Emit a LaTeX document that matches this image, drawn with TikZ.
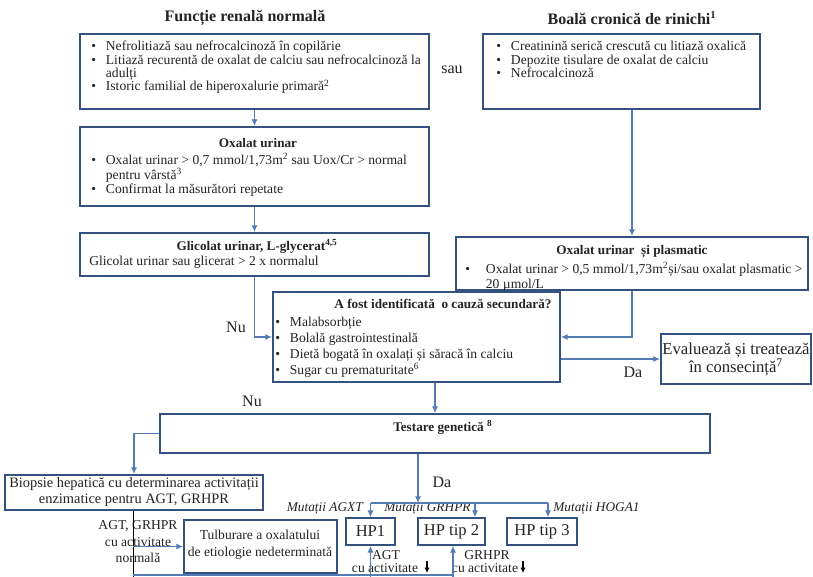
\documentclass[tikz,border=0pt]{standalone}
\usepackage{fontspec}
\setmainfont{Liberation Serif}
\usetikzlibrary{arrows.meta,fit}
\definecolor{boxc}{RGB}{52,82,128}
\definecolor{arrc}{RGB}{84,124,180}
\definecolor{txt}{RGB}{35,35,35}
\newcommand\bu{\makebox[11pt][l]{\textbullet}}
\newcommand\bul{\makebox[15.5pt][l]{\textbullet}}
\newcommand\ind{\hspace*{11pt}}
\newcommand\indl{\hspace*{15.5pt}}
\newcommand\fsz[2]{\fontsize{#1}{#2}\selectfont\lineskiplimit=-20pt\lineskip=0pt}
\tikzset{
 box/.style={draw=boxc, line width=1.5pt, inner sep=0pt},
 conn/.style={draw=arrc, line width=0.8pt},
 arr/.style={conn, -{Latex[length=5pt,width=4.5pt]}},
 tx/.style={inner sep=0pt, text=txt, font=\fsz{10.2}{10}, align=left},
 ttl/.style={inner sep=0pt, text=txt, font=\fontsize{12}{13}\selectfont\bfseries},
 hd/.style={inner sep=0pt, text=txt, font=\fontsize{9.9}{11}\selectfont\bfseries},
 lab/.style={inner sep=0pt, text=txt, font=\fontsize{12}{13}\selectfont},
 sml/.style={inner sep=0pt, text=txt, font=\fsz{10.2}{11}},
 mut/.style={inner sep=0pt, text=txt, font=\fontsize{10}{11}\selectfont\itshape},
 hp/.style={box, line width=1.3pt},
 hpt/.style={inner sep=0pt, text=txt, font=\fontsize{12.4}{13}\selectfont},
 blk/.style={draw=black, line width=0.6pt},
}
\begin{document}
\begin{tikzpicture}[x=0.75pt,y=-0.75pt]
\useasboundingbox (0,0) rectangle (813,576);
\fill[white] (0,0) rectangle (813,576);
% titles
\node[ttl] (t1) at (245,18) {Funcție renală normală};
\node[ttl] (t2) at (632,18) {Boală cronică de rinichi\textsuperscript{1}};
% box 1
\node[box, fit={(80,34) (429,109)}] (b1) {};
\node[tx, anchor=north west] (b1t) at (91,41) {\bu Nefrolitiază sau nefrocalcinoză în copilărie\\
\bu Litiază recurentă de oxalat de calciu sau nefrocalcinoză la\\
\ind adulți\\
\bu Istoric familial de hiperoxalurie primară\textsuperscript{2}};
\node[lab] (sau) at (452,70) {sau};
% box 2
\node[box, fit={(483,34) (760,109)}] (b2) {};
\node[tx, anchor=north west] (b2t) at (496,41) {\bu Creatinină serică crescută cu litiază oxalică\\
\bu Depozite tisulare de oxalat de calciu\\
\bu Nefrocalcinoză};
% box 3
\node[box, fit={(80,127) (429,206)}] (b3) {};
\node[hd] (b3h) at (258,143) {Oxalat urinar};
\node[tx, anchor=north west, font=\fsz{10.2}{11}] (b3t) at (91,153) {\bu Oxalat urinar > 0,7 mmol/1,73m\textsuperscript{2} sau Uox/Cr > normal\\
\ind pentru vârstă\textsuperscript{3}\\
\bu Confirmat la măsurători repetate};
% box 4
\node[box, fit={(80,233) (429,276)}] (b4) {};
\node[hd] (b4h) at (257,246) {Glicolat urinar, L-glycerat\textsuperscript{4,5}};
\node[tx, anchor=west] (b4t) at (89,262) {Glicolat urinar sau glicerat > 2 x normalul};
% box 5
\node[box, fit={(456,237) (808,290)}] (b5) {};
\node[hd] (b5h) at (632,252) {Oxalat urinar \ și plasmatic};
\node[tx, anchor=north west, font=\fsz{10.2}{11}] (b5t) at (465,262) {\bul Oxalat urinar > 0,5 mmol/1,73m\textsuperscript{2}și/sau oxalat plasmatic >\\
\indl 20 µmol/L};
% secondary cause box
\node[box, fit={(273,292) (560,382)}] (sec) {};
\node[hd] (sech) at (443,304) {A fost identificată \ o cauză secundară?};
\node[tx, anchor=north west, font=\fsz{10.2}{12}] (sect) at (275,317) {\bu Malabsorbție\\
\bu Bolală gastrointestinală\\
\bu Dietă bogată în oxalați și săracă în calciu\\
\bu Sugar cu prematuritate\textsuperscript{6}};
% evaluate box
\node[box, fit={(661,334) (811,384)}] (ev) {};
\node[lab, align=center, font=\fsz{12.5}{13.5}] (evt) at (736,359) {Evaluează și treatează\\ în consecință\textsuperscript{7}};
% labels
\node[lab] (nu1) at (236,327) {Nu};
\node[lab] (nu2) at (252,401) {Nu};
\node[lab] (da1) at (633,372) {Da};
\node[lab] (da2) at (442,482) {Da};
% testare box
\node[box, fit={(160,414) (710,453)}] (test) {};
\node[hd, anchor=west] (testt) at (393,427) {Testare genetică \textsuperscript{8}};
% biopsie
\node[box, fit={(5,475) (263,510)}] (bio) {};
\node[sml, align=center, font=\fsz{10.8}{11.5}] (biot) at (134,492) {Biopsie hepatică cu determinarea activitații\\ enzimatice pentru AGT, GRHPR};
% tulburare
\node[box, fit={(184,520) (337,573)}] (tul) {};
\node[sml, align=center, font=\fsz{10.2}{12.5}] (tult) at (260,545) {Tulburare a oxalatului\\ de etiologie nedeterminată};
% HP boxes
\node[hp, fit={(346,518) (395,545)}] (hp1) {};
\node[hp, fit={(418,518) (485,545)}] (hp2) {};
\node[hp, fit={(507,518) (577,545)}] (hp3) {};
\node[hpt] at (hp1.center) {HP1};
\node[hpt] at (hp2.center) {HP tip 2};
\node[hpt] at (hp3.center) {HP tip 3};
% mutation labels
\node[mut, anchor=east] (m1) at (363,508) {Mutații AGXT};
\node[mut, anchor=west] (m2) at (384,508) {Mutații GRHPR};
\node[mut, anchor=west] (m3) at (553,508) {Mutații HOGA1};
% labels below
\node[sml, align=center, font=\fsz{10.2}{12.4}] (lnorm) at (138,542) {AGT, GRHPR\\ cu activitate\\ normală};
\node[sml] (agt) at (386,555) {AGT};
\node[sml] (agtc) at (385,568) {cu activitate};
\node[sml] (grh) at (487,555) {GRHPR};
\node[sml] (grhc) at (485,568) {cu activitate};
% coordinates
\coordinate (br) at (418,503);
\coordinate (brR) at (548,503);
\coordinate (m2x) at (475,503);
\coordinate (bot) at (133,575);
\coordinate (botEnd) at (453,575);
\coordinate (low) at (133,600);
\coordinate (hp2u) at (453,600);
% connectors
\draw[arr] (b1.south) -- (b3.north);
\draw[arr] (b3.south) -- (b4.north);
\draw[arr] (b2.south -| b5.north) -- (b5.north);
\draw[arr] (b4.south) |- (sec.west);
\draw[arr] (b5.south) |- (sec.east);
\draw[arr] (ev.west -| sec.east) -- (ev.west);
\draw[arr] (sec.south -| test.north) -- (test.north);
\draw[arr] (test.west) -| (bio.north);
\draw[arr] (test.south -| br) -- (br);
\draw[conn] (hp1.north |- br) -- (brR);
\draw[arr] (hp1.north |- br) -- (hp1.north);
\draw[arr] (m2x) -- (hp2.north -| m2x);
\draw[arr] (brR) -- (hp3.north -| brR);
\draw[blk] (bio.south -| bot) -- (low);
\draw[arr] (tul.west -| bot) -- (tul.west);
\draw[conn] (bot) -- (botEnd);
\draw[arr] (hp1.south |- low) -- (hp1.south);
\draw[arr] (hp2u) -- (hp2.south -| hp2u);
\coordinate (k1) at (427,561);
\coordinate (k2) at (523,561);
\draw[black, line width=0.9pt, -{Latex[length=4pt,width=4pt]}] (k1) -- ++(0,12);
\draw[black, line width=0.9pt, -{Latex[length=4pt,width=4pt]}] (k2) -- ++(0,12);
\end{tikzpicture}
\end{document}
